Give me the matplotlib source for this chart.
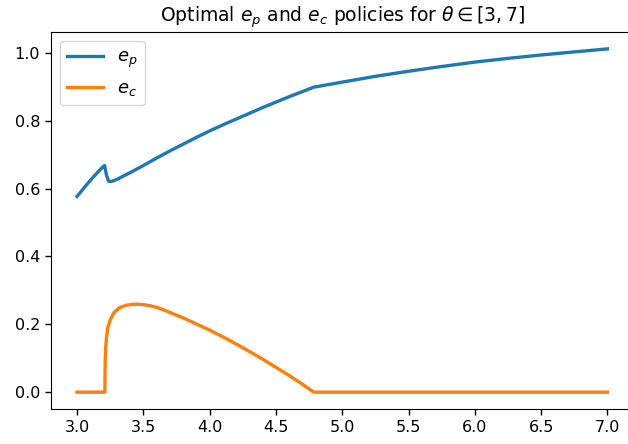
import matplotlib
matplotlib.use("Agg")
import matplotlib.pyplot as plt

theta_p = [3.0, 3.04, 3.08, 3.12, 3.16, 3.19, 3.208, 3.222, 3.238, 3.26, 3.30, 3.40, 3.50,
           3.60, 3.70, 3.80, 3.90, 4.00, 4.10, 4.20, 4.30, 4.40, 4.50, 4.60, 4.70, 4.784,
           5.0, 5.25, 5.5, 5.75, 6.0, 6.25, 6.5, 6.75, 7.0]
e_p = [0.577, 0.596, 0.615, 0.633, 0.650, 0.662, 0.668, 0.640, 0.622, 0.621, 0.627, 0.647, 0.668,
       0.690, 0.711, 0.731, 0.751, 0.770, 0.788, 0.805, 0.822, 0.839, 0.855, 0.871, 0.886, 0.899,
       0.914, 0.931, 0.946, 0.960, 0.973, 0.984, 0.994, 1.003, 1.012]

theta_c = [3.0, 3.210, 3.212, 3.216, 3.222, 3.232, 3.25, 3.28, 3.32, 3.37, 3.42,
           3.46, 3.50, 3.55, 3.60, 3.65, 3.70, 3.80, 3.90, 4.00, 4.10, 4.20, 4.30,
           4.40, 4.50, 4.60, 4.70, 4.785, 7.0]
e_c = [0.0, 0.0, 0.09, 0.13, 0.16, 0.19, 0.213, 0.235, 0.249, 0.256, 0.259,
       0.259, 0.258, 0.255, 0.250, 0.243, 0.235, 0.219, 0.201, 0.183, 0.163, 0.142, 0.120,
       0.097, 0.073, 0.049, 0.023, 0.0, 0.0]

title = r"Optimal $e_p$ and $e_c$ policies for $\theta \in [3, 7]$"

fig = plt.figure(figsize=(6.28, 4.44), dpi=100)
ax = fig.add_axes([50.5 / 628, (444 - 409.3) / 444, 583.5 / 628, (409.3 - 31.7) / 444])
ax.plot(theta_p, e_p, color="#1f77b4", lw=2.4, label=r"$e_p$")
ax.plot(theta_c, e_c, color="#ff7f0e", lw=2.4, label=r"$e_c$")
ax.set_xticks([3.0, 3.5, 4.0, 4.5, 5.0, 5.5, 6.0, 6.5, 7.0])
ax.set_yticks([0.0, 0.2, 0.4, 0.6, 0.8, 1.0])
ax.tick_params(labelsize=11.5, length=4, width=1)
ax.spines["right"].set_visible(False)
ax.set_title(title, fontsize=13.5, pad=7)
ax.legend(loc="upper left", fontsize=13)
fig.savefig("out.png", dpi=100)
